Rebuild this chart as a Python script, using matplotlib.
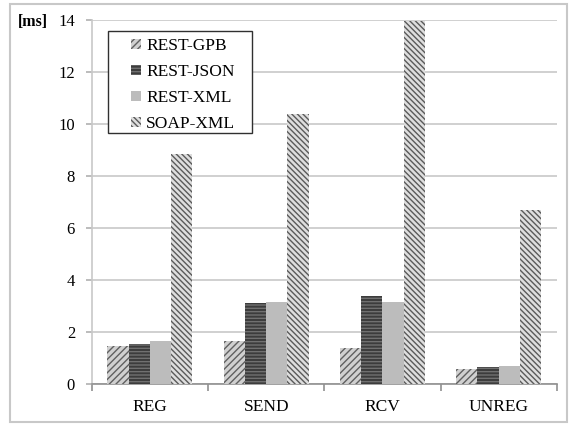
import numpy as np
import matplotlib
matplotlib.use('Agg')
import matplotlib.pyplot as plt
from matplotlib.patches import Rectangle

# data
categories = ['REG', 'SEND', 'RCV', 'UNREG']
series = ['REST-GPB', 'REST-JSON', 'REST-XML', 'SOAP-XML']
rest_gpb = [1.48, 1.65, 1.38, 0.6]
rest_json = [1.53, 3.13, 3.38, 0.67]
rest_xml = [1.67, 3.16, 3.17, 0.71]
soap_xml = [8.85, 10.4, 13.95, 6.7]
yticks = [0, 2, 4, 6, 8, 10, 12, 14]

plt.rcParams['font.family'] = ['Liberation Serif', 'DejaVu Serif']
plt.rcParams['hatch.linewidth'] = 1.0

fig = plt.figure(figsize=(5.7, 4.24), dpi=100)
ax = fig.add_axes([0.161, 0.094, 0.816, 0.859])

# outer frame of the picture
fig.patches.append(Rectangle((0.018, 0.005), 0.977, 0.985, transform=fig.transFigure,
                             fill=False, edgecolor='#c8c8c8', linewidth=1.5))

values = [rest_gpb, rest_json, rest_xml, soap_xml]
faces = ['#d0d0d0', '#3c3c3c', '#bcbcbc', '#dedede']
hatch_cols = ['#606060', '#707070', '#bcbcbc', '#5a5a5a']
hatches = ['/////', '-----', '', '\\\\\\\\\\\\']

x = np.arange(len(categories))
w = 0.183
for i in range(4):
    ax.bar(x + (i - 1.5) * w, values[i], w, color=faces[i], edgecolor=hatch_cols[i],
           hatch=hatches[i], linewidth=0, label=series[i], zorder=3)

ax.set_xlim(-0.5, 3.5)
ax.set_ylim(0, 14)
ax.set_yticks(yticks)
ax.set_yticklabels([str(t) for t in yticks], fontsize=12)
ax.yaxis.grid(True, color='#c8c8c8', linewidth=1.2, zorder=0)
ax.set_axisbelow(True)

ax.set_xticks(x)
ax.set_xticklabels(categories, fontsize=12.5)
ax.tick_params(axis='x', length=0, pad=11)
ax.tick_params(axis='y', length=4, color='#b0b0b0', width=1.2, pad=8)
# category separator ticks on x axis
ax.set_xticks(np.arange(-0.5, 4.0, 1.0), minor=True)
ax.tick_params(axis='x', which='minor', length=5, color='#909090', width=1.2)

for s in ['top', 'right']:
    ax.spines[s].set_visible(False)
ax.spines['left'].set_color('#c8c8c8')
ax.spines['left'].set_linewidth(1.2)
ax.spines['bottom'].set_color('#909090')
ax.spines['bottom'].set_linewidth(1.2)

fig.text(0.058, 0.948, '[ms]', fontsize=11.5, fontweight='bold', ha='center', va='center')

# legend box drawn separately so its padding matches the reference
ax.add_patch(Rectangle((0.0344, 0.69), 0.31, 0.28, transform=ax.transAxes,
                       facecolor='white', edgecolor='#303030', linewidth=1.0, zorder=4))
leg = ax.legend(loc='upper left', bbox_to_anchor=(0.085, 0.95), fontsize=12.5,
                frameon=False, handlelength=0.55, handleheight=0.55, handletextpad=0.3,
                labelspacing=0.58, borderpad=0, borderaxespad=0)
leg.set_zorder(5)

fig.savefig('out.png', dpi=100)
